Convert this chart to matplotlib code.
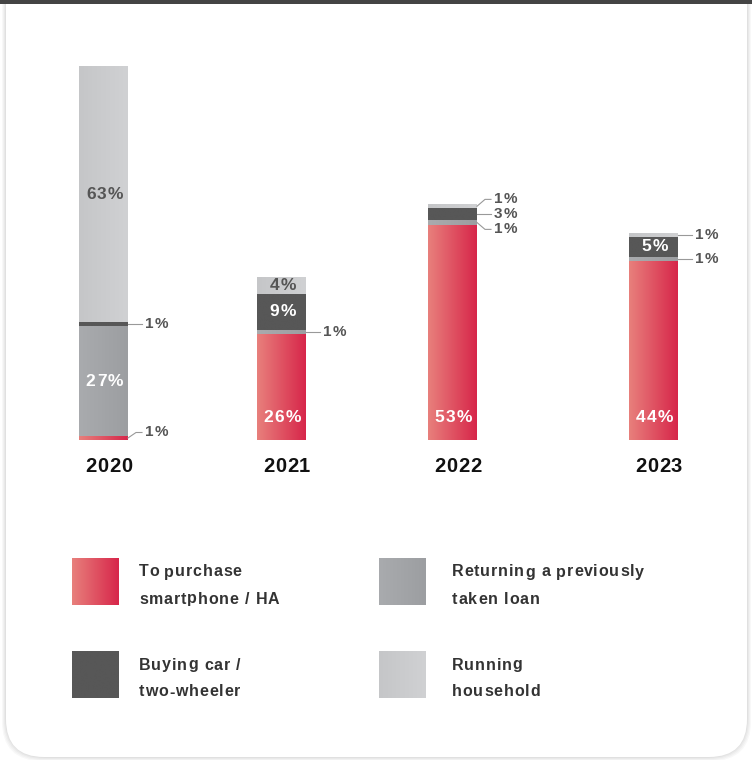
import numpy as np
import matplotlib
matplotlib.use("Agg")
import matplotlib.pyplot as plt
from matplotlib.colors import LinearSegmentedColormap
from matplotlib.patches import FancyBboxPatch, Rectangle

plt.rcParams['font.family'] = ['Liberation Sans', 'DejaVu Sans']

# Loan purpose shares (%) per year
years = ['2020', '2021', '2022', '2023']
smartphone = [1, 26, 53, 44]
prev_loan = [27, 1, 1, 1]
vehicle = [1, 9, 3, 5]
household = [63, 4, 1, 1]

series_names = ['To purchase\nsmartphone / HA', 'Returning a previously\ntaken loan',
                'Buying car /\ntwo-wheeler', 'Running\nhousehold']

# gradient colours (left, right) and label colour per series
styles = [
    (('#e8807c', '#d7264a'), 'white'),
    (('#a9abae', '#9c9ea1'), 'white'),
    (('#575757', '#575757'), 'white'),
    (('#c5c6c8', '#d0d1d3'), '#555555'),
]

W, H = 752, 760
fig = plt.figure(figsize=(W / 100, H / 100), dpi=100)
fig.patch.set_facecolor('white')
renderer = fig.canvas.get_renderer()

# background layer in pixel coordinates: card, shadow, top strip, legend
bg = fig.add_axes([0, 0, 1, 1])
bg.set_xlim(0, W)
bg.set_ylim(H, 0)
bg.axis('off')

for i, a in enumerate([0.05, 0.05, 0.06, 0.07]):
    pad = 4 - i
    bg.add_patch(FancyBboxPatch((6 - pad, -60), 741 + 2 * pad, 817 + pad,
                                boxstyle='round,pad=0,rounding_size=40',
                                fc='#777777', ec='none', alpha=a, zorder=1))
bg.add_patch(FancyBboxPatch((6, -60), 741, 817, boxstyle='round,pad=0,rounding_size=38',
                            fc='white', ec='none', zorder=2))
bg.add_patch(Rectangle((0, 0), W, 3.5, fc='#444444', ec='none', zorder=3))


def text_width(axis, s, **kw):
    # measure with a trailing marker so trailing spaces keep their advance
    t = axis.text(0, 0, s + '|', **kw)
    w = t.get_window_extent(renderer).width
    t.remove()
    t = axis.text(0, 0, '|', **kw)
    w -= t.get_window_extent(renderer).width
    t.remove()
    return w


def tracked_text(axis, x, y, s, track, ha='left', **kw):
    """Draw text with extra spacing between letters (x units are pixels)."""
    total = text_width(axis, s, **kw) + track * (len(s) - 1)
    x0 = x - total / 2 if ha == 'center' else x
    for k, ch in enumerate(s):
        if ch == ' ':
            continue
        axis.text(x0 + text_width(axis, s[:k], **kw) + k * track, y, ch,
                  ha='left', **kw)


def gradient_image(axis, x0, x1, y0, y1, c0, c1, clip=None, z=3):
    cmap = LinearSegmentedColormap.from_list('g', [c0, c1])
    grad = np.linspace(0, 1, 256).reshape(1, -1)
    im = axis.imshow(grad, cmap=cmap, extent=[x0, x1, y0, y1], aspect='auto',
                     interpolation='bilinear', zorder=z)
    if clip is not None:
        im.set_clip_path(clip)
    return im


# legend (two columns)
legend_pos = [(72, 558, 139), (379, 558, 452), (72, 651, 139), (379, 651, 452)]
for (lx, ly, tx), name, ((c0, c1), _) in zip(legend_pos, series_names, styles):
    gradient_image(bg, lx, lx + 47, ly + 47, ly, c0, c1, z=4)
    for k, line in enumerate(name.split('\n')):
        tracked_text(bg, tx, ly + 14 + 27 * k, line, 0.85, fontsize=11.5,
                     fontweight='bold', color='#333333', va='center', zorder=5)
bg.set_xlim(0, W)
bg.set_ylim(H, 0)

# bar layer
base_px, top_px = 440, 66
data = np.array([smartphone, prev_loan, vehicle, household], dtype=float)
totals = data.sum(axis=0)
ymax = totals.max()
ax = fig.add_axes([0, (H - base_px) / H, 1, (base_px - top_px) / H])
ax.set_xlim(0, W)
ax.set_ylim(0, ymax)
ax.axis('off')
ax.patch.set_alpha(0)

x_centers = [103.5, 281.5, 452.5, 653.5]
bar_w = 49
px_per_unit = (base_px - top_px) / ymax
min_inside = 14 / px_per_unit          # thinner segments get their label outside
label_gap = 15 / px_per_unit

bottoms = np.zeros(len(years))
outside = [[] for _ in years]
for s, ((c0, c1), tcol) in enumerate(styles):
    vals = data[s]
    bars = ax.bar(x_centers, vals, bottom=bottoms, width=bar_w, color=c1,
                  linewidth=0, zorder=2)
    for j, (patch, v) in enumerate(zip(bars, vals)):
        x0 = patch.get_x()
        gradient_image(ax, x0, x0 + bar_w, bottoms[j], bottoms[j] + v, c0, c1, clip=patch)
        mid = bottoms[j] + v / 2
        if v >= min_inside:
            ty = bottoms[j] + 23 / px_per_unit if s == 0 else mid
            tracked_text(ax, x_centers[j] + 1, ty, f'{v:.0f}%', 1.2, ha='center',
                         va='center', fontsize=12.5, fontweight='bold', color=tcol,
                         zorder=6)
        else:
            outside[j].append((mid, v))
    bottoms += vals

# labels for very thin segments sit to the right of the bar
for j, items in enumerate(outside):
    if not items:
        continue
    items.sort()
    ys = [items[0][0]]
    for mid, _ in items[1:]:
        ys.append(max(mid, ys[-1] + label_gap))
    shift = np.mean([m for m, _ in items]) - np.mean(ys)
    ys = [max(y + shift, 0.5 * label_gap) for y in ys]
    for k in range(1, len(ys)):
        ys[k] = max(ys[k], ys[k - 1] + label_gap)
    xr = x_centers[j] + bar_w / 2
    for (mid, v), ty in zip(items, ys):
        ax.plot([xr, xr + 8, xr + 14], [mid, ty, ty], color='#999999', lw=0.8, zorder=5)
        tracked_text(ax, xr + 17, ty, f'{v:.0f}%', 0.8, va='center', fontsize=11,
                     fontweight='bold', color='#555555', zorder=6)

ax.set_xlim(0, W)
ax.set_ylim(0, ymax)

# year labels under each bar
for xc, yr in zip(x_centers, years):
    tracked_text(bg, xc + 5, 467, yr, 0.8, ha='center', va='center', fontsize=14.5,
                 fontweight='bold', color='#111111', zorder=5)

fig.savefig('out.png', dpi=100)
